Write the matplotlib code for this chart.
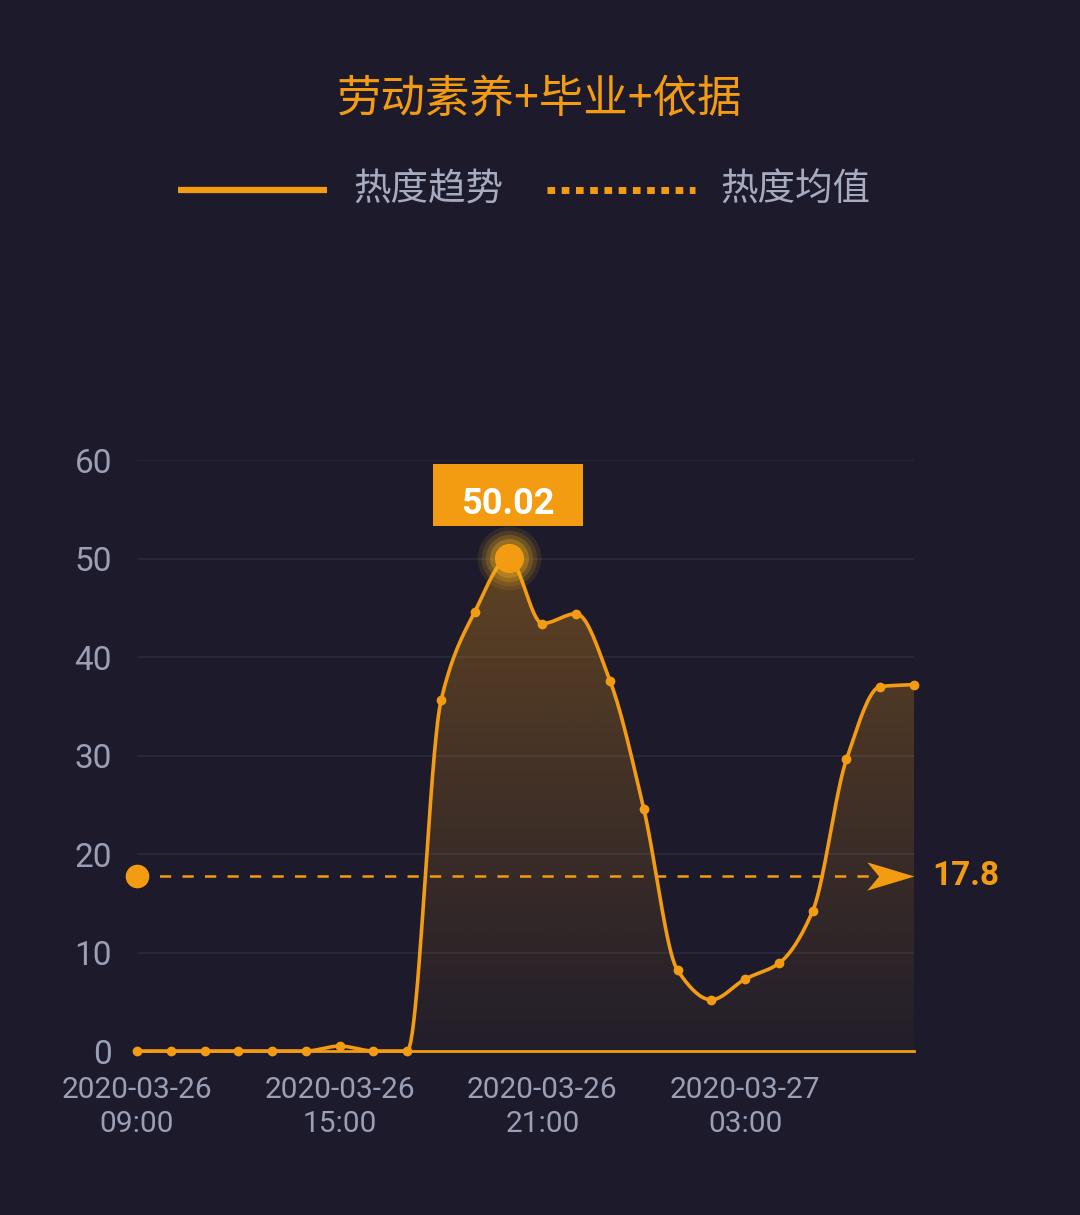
"""Heat trend chart: hourly values with mean line and peak label."""

import numpy as np
import matplotlib
matplotlib.use("Agg")
import matplotlib.pyplot as plt
import matplotlib.transforms as mtransforms
from matplotlib.lines import Line2D
from matplotlib.patches import Rectangle
from matplotlib.path import Path

plt.rcParams["font.family"] = ["Roboto", "Noto Sans CJK SC", "DejaVu Sans"]

# --- data ---
title = "劳动素养+毕业+依据"
legend_labels = ["热度趋势", "热度均值"]
hours = ["09:00", "10:00", "11:00", "12:00", "13:00", "14:00", "15:00", "16:00",
         "17:00", "18:00", "19:00", "20:00", "21:00", "22:00", "23:00", "00:00",
         "01:00", "02:00", "03:00", "04:00", "05:00", "06:00", "07:00", "08:00"]
values = [0, 0, 0, 0, 0, 0, 0.5, 0, 0, 35.6, 44.6, 50.02, 43.4, 44.4, 37.6, 24.6,
          8.2, 5.2, 7.3, 8.9, 14.2, 29.6, 37.0, 37.2]
tick_idx = [0, 6, 12, 18]
tick_labels = ["2020-03-26\n09:00", "2020-03-26\n15:00", "2020-03-26\n21:00", "2020-03-27\n03:00"]
mean_value = 17.8

BG = "#1c1a2b"
ORANGE = "#f39c12"
GRID = "#2b2a3e"
TEXT = "#9a9fb5"
LEGEND_TEXT = "#a7abc0"


def _pchip(x, y, n=20):
    """Monotone cubic (Fritsch-Carlson) for a smooth line through the points."""
    x = np.asarray(x, dtype=float)
    y = np.asarray(y, dtype=float)
    h = np.diff(x)
    d = np.diff(y) / h
    m = np.zeros_like(y)
    for i in range(1, len(y) - 1):
        if d[i - 1] * d[i] > 0:
            w1 = 2 * h[i] + h[i - 1]
            w2 = h[i] + 2 * h[i - 1]
            m[i] = (w1 + w2) / (w1 / d[i - 1] + w2 / d[i])
    m[0] = d[0]
    m[-1] = d[-1]
    xs, ys = [], []
    for i in range(len(h)):
        t = np.linspace(0, 1, n, endpoint=(i == len(h) - 1))
        h00 = 2 * t**3 - 3 * t**2 + 1
        h10 = t**3 - 2 * t**2 + t
        h01 = -2 * t**3 + 3 * t**2
        h11 = t**3 - t**2
        xs.append(x[i] + t * h[i])
        ys.append(h00 * y[i] + h10 * h[i] * m[i] + h01 * y[i + 1] + h11 * h[i] * m[i + 1])
    return np.concatenate(xs), np.concatenate(ys)


x = np.arange(len(values))
y = np.array(values, dtype=float)
xs, ys = _pchip(x, y)

fig = plt.figure(figsize=(10.8, 12.15), dpi=100, facecolor=BG)
ax = fig.add_axes([137 / 1080, 1 - 1051 / 1215, 777 / 1080, 591 / 1215])
ax.set_facecolor(BG)
ax.set_xlim(0, 23)
ax.set_ylim(0, 60)

# grid
ax.set_yticks(np.arange(0, 61, 10))
for yv in np.arange(10, 61, 10):
    ax.axhline(yv, color=GRID, lw=1.2, zorder=0)
for s in ax.spines.values():
    s.set_visible(False)
ax.axhline(0, color=ORANGE, lw=2, zorder=3, clip_on=False)

ax.tick_params(axis="y", length=0, pad=18, labelsize=24, labelcolor=TEXT)
ax.tick_params(axis="x", length=0, pad=18, labelsize=21.5, labelcolor=TEXT)
ax.set_xticks(tick_idx)
ax.set_xticklabels(tick_labels, linespacing=1.25)

# gradient fill under the curve
fill = ax.fill_between(xs, ys, 0, color="none", lw=0)
grad = np.zeros((256, 1, 4))
rgb = matplotlib.colors.to_rgb(ORANGE)
grad[:, 0, :3] = rgb
grad[:, 0, 3] = np.linspace(0.31, 0.03, 256)
img = ax.imshow(grad, extent=[0, 23, 0, max(values)], origin="upper",
                aspect="auto", zorder=1)
clip = fill.get_paths()[0]
img.set_clip_path(clip, transform=ax.transData)
ax.set_xlim(0, 23)
ax.set_ylim(0, 60)

# trend line and points
ax.plot(xs, ys, color=ORANGE, lw=2.6, zorder=4, clip_on=False)
ax.plot(x, y, "o", color=ORANGE, ms=6, zorder=5, clip_on=False)

# mean line
ax.plot([0, 22.3], [mean_value, mean_value], color=ORANGE, lw=1.8,
        dashes=(4.5, 4.5), zorder=4, clip_on=False)
ax.plot([0], [mean_value], "o", color=ORANGE, ms=16, zorder=6, clip_on=False)
arrow = Path([(0, 0), (-1, 0.3), (-0.75, 0), (-1, -0.3), (0, 0)],
             [Path.MOVETO, Path.LINETO, Path.LINETO, Path.LINETO, Path.CLOSEPOLY])
ax.plot([23], [mean_value], marker=arrow, ms=68, color=ORANGE, mew=0,
        zorder=6, clip_on=False)
ax.annotate(f"{mean_value}", xy=(23, mean_value), xytext=(13, 0),
            textcoords="offset points", ha="left", va="center",
            fontsize=24, fontweight="bold", color=ORANGE, annotation_clip=False)

# peak marker with glow and label box
ipk = int(np.argmax(y))
for ms, a in [(46, 0.10), (40, 0.14), (34, 0.2), (28, 0.3)]:
    ax.plot([x[ipk]], [y[ipk]], "o", color="#f7b21e", ms=ms, mew=0, alpha=a,
            zorder=6, clip_on=False)
ax.plot([x[ipk]], [y[ipk]], "o", color=ORANGE, ms=21, mew=0, zorder=7, clip_on=False)
anchor = fig.dpi_scale_trans + mtransforms.ScaledTranslation(x[ipk], y[ipk], ax.transData)
ax.add_patch(Rectangle((-0.76, 0.32), 1.50, 0.62, transform=anchor,
                       facecolor=ORANGE, edgecolor="none", zorder=8, clip_on=False))
ax.text(-0.01, 0.54, f"{y[ipk]:.2f}", transform=anchor, ha="center", va="center",
        fontsize=26, fontweight="bold", color="white", zorder=9)

# title and legend
fig.text(0.5, 1 - 99 / 1215, title, ha="center", va="center", fontsize=32,
         color=ORANGE, family=["Noto Sans CJK SC", "DejaVu Sans"])
ly = 1 - 190 / 1215
fig.add_artist(Line2D([178 / 1080, 327 / 1080], [ly, ly], color=ORANGE, lw=4.5,
                      solid_capstyle="butt"))
fig.text(353 / 1080, ly, legend_labels[0], ha="left", va="center", fontsize=27,
         color=LEGEND_TEXT, family=["Noto Sans CJK SC", "DejaVu Sans"])
fig.add_artist(Line2D([547 / 1080, 695 / 1080], [ly, ly], color=ORANGE, lw=5,
                      dashes=(1.1, 0.95), dash_capstyle="butt"))
fig.text(720 / 1080, ly, legend_labels[1], ha="left", va="center", fontsize=27,
         color=LEGEND_TEXT, family=["Noto Sans CJK SC", "DejaVu Sans"])

fig.savefig("out.png", dpi=100, facecolor=BG)
